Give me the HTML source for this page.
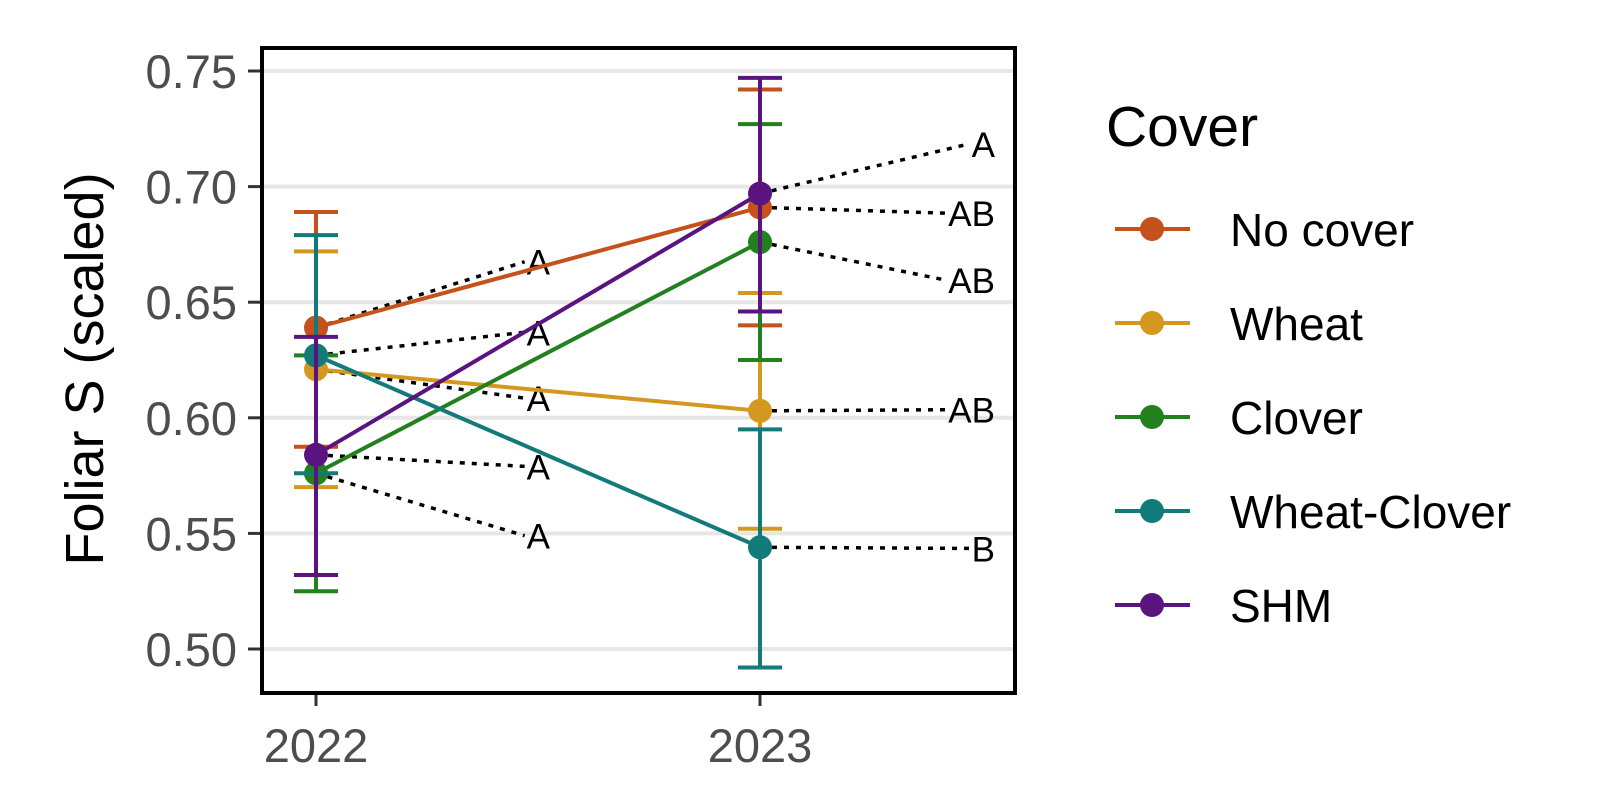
<!DOCTYPE html>
<html><head><meta charset="utf-8"><style>
body{margin:0;background:#fff}
svg{display:block;font-family:"Liberation Sans",Arial,sans-serif}
</style></head><body>
<svg id="c" width="1600" height="800"></svg>
<script>
const years=["2022","2023"];
const seriesNames=["No cover","Wheat","Clover","Wheat-Clover","SHM"];
const colors=["#C5511B","#D4981F","#22801E","#137A7A","#5A1480"];
const means=[[0.639,0.691],[0.621,0.603],[0.576,0.676],[0.627,0.544],[0.584,0.697]];
const lows=[[0.5875,0.640],[0.570,0.552],[0.525,0.625],[0.576,0.492],[0.532,0.646]];
const highs=[[0.689,0.742],[0.672,0.654],[0.627,0.727],[0.679,0.595],[0.635,0.747]];
const letters=[["A","AB"],["A","AB"],["A","AB"],["A","B"],["A","A"]];
const letterY=[[0.6675,0.6885],[0.6085,0.6035],[0.549,0.6595],[0.637,0.5435],[0.579,0.7185]];
const yTicks=[0.50,0.55,0.60,0.65,0.70,0.75];
const yTickLabels=["0.50","0.55","0.60","0.65","0.70","0.75"];

const NS="http://www.w3.org/2000/svg";
const svg=document.getElementById('c');
const Y=v=>649-(v-0.5)/0.25*578;
const X=i=>316+i*444;
const LX=i=>[550,995][i];
function mk(t,a,p){const e=document.createElementNS(NS,t);for(const k in a)e.setAttribute(k,a[k]);(p||svg).appendChild(e);return e;}

yTicks.forEach((t,i)=>{
  const g=mk('line',{x1:262,x2:1015,y1:Y(t),y2:Y(t),stroke:'#e6e6e6','stroke-width':4});
  
  
  const tk=mk('line',{x1:248,x2:262,y1:Y(t),y2:Y(t),stroke:'#333','stroke-width':3});
  
  
  const tx=mk('text',{x:237,y:Y(t)+17,'text-anchor':'end','font-size':47,fill:'#4d4d4d'});
  tx.textContent=yTickLabels[i];
  
  
});
years.forEach((y,i)=>{
  const tk=mk('line',{x1:X(i),x2:X(i),y1:693,y2:706,stroke:'#333','stroke-width':3});
  
  
  const tx=mk('text',{x:X(i),y:762,'text-anchor':'middle','font-size':47,fill:'#4d4d4d'});
  tx.textContent=y;
  
  
});
seriesNames.forEach((s,k)=>{
  years.forEach((y,i)=>{
    const t=mk('text',{x:LX(i),y:Y(letterY[k][i])+13,'text-anchor':'end','font-size':35,fill:'#000'});
    t.textContent=letters[k][i];
    
    
    const w=t.getComputedTextLength();
    const l=mk('line',{x1:X(i),y1:Y(means[k][i]),x2:LX(i)-w-2,y2:Y(letterY[k][i]),stroke:'#000','stroke-width':3.5,'stroke-dasharray':'5 7'});
    
    
  });
});
seriesNames.forEach((s,k)=>{
  const g=mk('g',{});
  
  
  const c=colors[k];
  mk('line',{x1:X(0),y1:Y(means[k][0]),x2:X(1),y2:Y(means[k][1]),stroke:c,'stroke-width':4},g);
  years.forEach((y,i)=>{
    const x=X(i),a=Y(lows[k][i]),b=Y(highs[k][i]);
    mk('path',{d:`M${x-22},${a}H${x+22}M${x},${a}V${b}M${x-22},${b}H${x+22}`,stroke:c,'stroke-width':4,fill:'none'},g);
    const p=mk('circle',{cx:x,cy:Y(means[k][i]),r:12,fill:c},g);
    
    
  });
});
const br=mk('rect',{x:262,y:48,width:753,height:645,fill:'none',stroke:'#000','stroke-width':4});


const yt=mk('text',{x:0,y:0,transform:'translate(103,369) rotate(-90)','text-anchor':'middle','font-size':54,fill:'#000'});
yt.textContent='Foliar S (scaled)';


const lt=mk('text',{x:1106,y:146,'font-size':57,fill:'#000'});
lt.textContent='Cover';


seriesNames.forEach((s,k)=>{
  const y=229+k*94;
  const g=mk('g',{});
  
  
  mk('line',{x1:1115,x2:1190,y1:y,y2:y,stroke:colors[k],'stroke-width':4},g);
  mk('circle',{cx:1152,cy:y,r:12,fill:colors[k]},g);
  const t=mk('text',{x:1230,y:y+17,'font-size':46,fill:'#000'},g);
  t.textContent=s;
});
</script>
</body></html>
